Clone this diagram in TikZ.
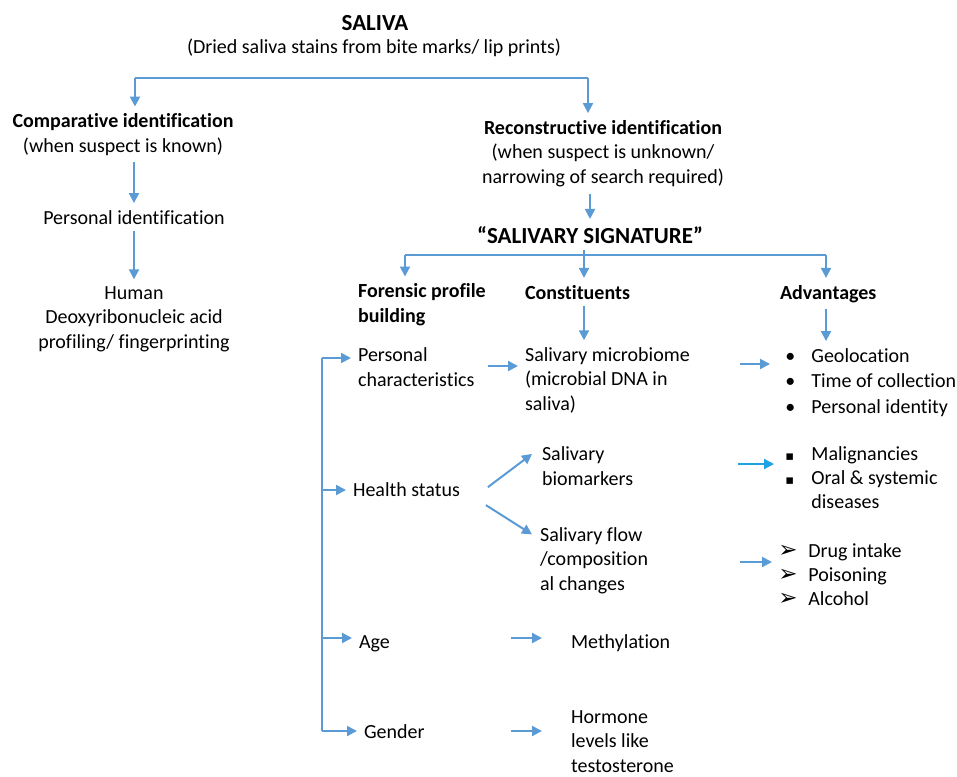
\documentclass[tikz,border=0pt]{standalone}
\usepackage{fontspec}
\setmainfont{Carlito}[Ligatures=NoCommon]
\newfontfamily\symfont{DejaVu Sans}
\usetikzlibrary{arrows.meta,positioning,calc}

\definecolor{linkblue}{HTML}{5B9BD5}
\definecolor{brightblue}{HTML}{1FA2E3}
\newcommand{\itm}[2][13pt]{\makebox[#1][l]{#2}}
\newcommand{\sqb}{\itm{\symfont\fontsize{6.5}{6.5}\selectfont ▪}}
\newcommand{\arb}{\itm[15pt]{\symfont\fontsize{11.5}{11.5}\selectfont ➢}}

\tikzset{
  txt/.style={inner sep=3.33pt, align=left, font=\fontsize{10}{12.2}\selectfont},
  ctxt/.style={txt, align=center},
  hdr/.style={txt, font=\fontsize{10}{12.2}\selectfont\bfseries},
  big/.style={txt, font=\fontsize{11.5}{14}\selectfont\bfseries},
  lst/.style={inner xsep=0pt, inner ysep=3.33pt, align=left, font=\fontsize{10}{12}\selectfont},
  link/.style={draw=linkblue, line width=1pt},
  arr/.style={link, -{Triangle[length=5pt,width=5pt]}},
}

\begin{document}
\begin{tikzpicture}[x=0.5pt, y=-0.5pt]
    \useasboundingbox (0,0) rectangle (957,776);

    % top of the chart
    \node[big, anchor=base] (saliva) at (375,30) {SALIVA};
    \node[ctxt, anchor=base] (dried) at (374,53) {(Dried saliva stains from bite marks/ lip prints)};

    % left branch
    \node[ctxt, anchor=base] (comp) at (123,152) {\textbf{Comparative identification}\\(when suspect is known)};
    \node[ctxt, anchor=base] (pid) at (134,224) {Personal identification};
    \node[ctxt, anchor=base] (human) at (134,348) {Human\\Deoxyribonucleic acid\\profiling/ fingerprinting};

    % right branch
    \node[ctxt, anchor=base] (recon) at (603,183) {\textbf{Reconstructive identification}\\(when suspect is unknown/\\narrowing of search required)};
    \node[big, anchor=base] (sig) at (590,243) {“SALIVARY SIGNATURE”};

    \node[hdr, anchor=base west] (forensic) at (351,322) {Forensic profile\\building};
    \node[hdr, anchor=base west] (constit) at (518,299) {Constituents};
    \node[hdr, anchor=base west] (adv) at (773,299) {Advantages};

    \node[txt, anchor=base west] (pchar) at (351,386) {Personal\\characteristics};
    \node[txt, anchor=base west] (micro) at (518,410) {Salivary microbiome\\(microbial DNA in\\saliva)};
    \node[lst, anchor=base west, font=\fontsize{10}{12.75}\selectfont] (geo) at (785,413)
        {\itm{\textbullet}Geolocation\\\itm{\textbullet}Time of collection\\\itm{\textbullet}Personal identity};

    \node[txt, anchor=base west] (health) at (346,496) {Health status};
    \node[txt, anchor=base west] (biom) at (535,485) {Salivary\\biomarkers};
    \node[txt, anchor=base west] (flow) at (533,590) {Salivary flow\\/composition\\al changes};
    \node[lst, anchor=base west] (malig) at (785,508)
        {\sqb Malignancies\\\sqb Oral \& systemic\\\itm{}diseases};
    \node[lst, anchor=base west] (drug) at (778,605)
        {\arb Drug intake\\\arb Poisoning\\\arb Alcohol};

    \node[txt, anchor=base west] (age) at (352,648) {Age};
    \node[txt, anchor=base west] (meth) at (564,648) {Methylation};
    \node[txt, anchor=base west] (gender) at (357,738) {Gender};
    \node[txt, anchor=base west] (horm) at (564,772) {Hormone\\levels like\\testosterone};

    % connectors
    \coordinate (b1) at (135,78);
    \coordinate (b2) at (588,78);
    \draw[link] (b1) -- (b2);
    \draw[arr] (b1) -- (b1 |- comp.north);
    \draw[arr] (b2) -- (b2 |- recon.north);
    \draw[arr] (comp.south -| pid.north) -- (pid.north);
    \draw[arr] (pid.south) -- (human.north);
    \draw[arr] (recon.south -| sig.north) -- (sig.north);

    \coordinate (s1) at (405,255);
    \coordinate (s2) at (826,255);
    \coordinate (s3) at (584,255);
    \draw[link] (s1) -- (s2);
    \draw[link] (sig.south -| s3) -- (s3);
    \draw[arr] (s1) -- (s1 |- forensic.north);
    \draw[arr] (s3) -- (s3 |- constit.north);
    \draw[arr] (s2) -- (s2 |- adv.north);
    \draw[arr] (constit.south -| s3) -- (s3 |- micro.north);
    \draw[arr] (adv.south -| s2) -- (s2 |- geo.north);

    \coordinate (t1) at (322,358);
    \coordinate (t2) at (322,490);
    \coordinate (t3) at (322,638);
    \coordinate (t4) at (322,731);
    \draw[link] (t1) -- (t4);
    \draw[arr] (t1) -- (t1 -| pchar.west);
    \draw[arr] (t2) -- (t2 -| health.west);
    \draw[arr] (t3) -- (t3 -| age.west);
    \draw[arr] (t4) -- (t4 -| gender.west);

    \coordinate (c1) at (488,366);
    \draw[arr] (c1) -- (c1 -| micro.west);
    \draw[arr] ($(health.east)+(10.5pt,1pt)$) -- ($(biom.west)+(-1.5pt,6pt)$);
    \draw[arr] ($(health.east)+(9.5pt,-8pt)$) -- ($(flow.west)+(-0.5pt,13pt)$);

    \coordinate (c2) at (740,364);
    \coordinate (c3) at (738,464);
    \coordinate (c4) at (740,562);
    \coordinate (c5) at (511,638);
    \coordinate (c6) at (511,731);
    \draw[arr] (c2) -- ($(c2 -| geo.west)+(-7.5pt,0)$);
    \draw[arr, draw=brightblue] (c3) -- ($(c3 -| malig.west)+(-5.5pt,0)$);
    \draw[arr] (c4) -- ($(c4 -| drug.west)+(-3pt,0)$);
    \draw[arr] (c5) -- ($(c5 -| meth.west)+(-11pt,0)$);
    \draw[arr] (c6) -- ($(c6 -| horm.west)+(-11pt,0)$);
\end{tikzpicture}
\end{document}
